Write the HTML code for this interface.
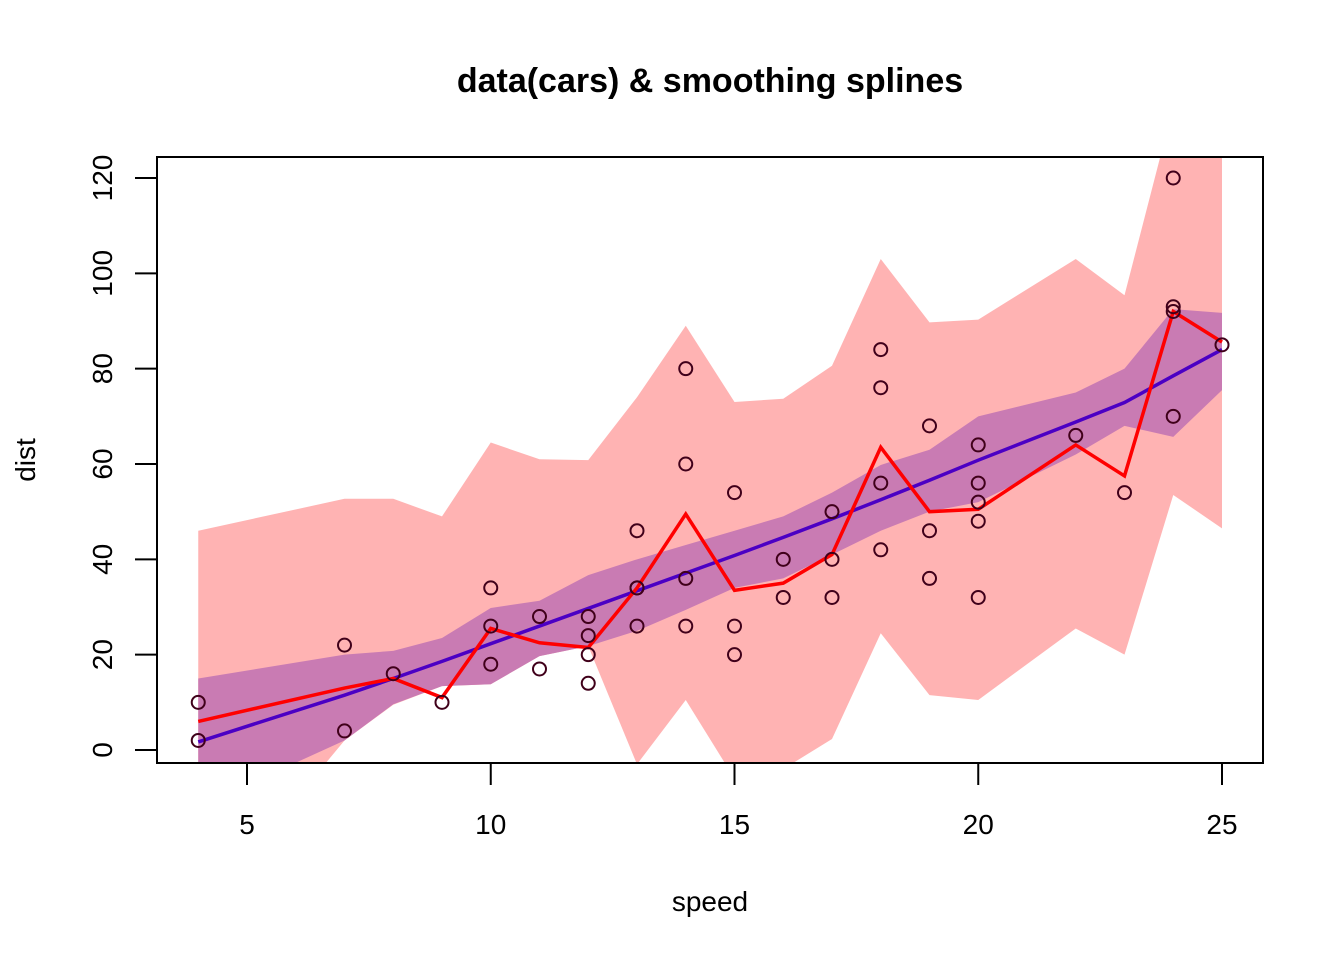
<!DOCTYPE html>
<html><head><meta charset="utf-8"><style>
body{margin:0;background:#fff;font-family:"Liberation Sans",sans-serif}
svg text{font-family:"Liberation Sans",sans-serif}
</style></head><body>
<svg id="chart" width="1344" height="960">
<defs><clipPath id="clip"><rect x="157" y="157" width="1106" height="606"/></clipPath></defs>
<text x="710" y="92" text-anchor="middle" font-size="34" font-weight="bold">data(cars) &amp; smoothing splines</text>
<g id="bands" clip-path="url(#clip)"></g>
<g id="lines" clip-path="url(#clip)"></g>
<g id="pts"></g>
<rect x="157" y="157" width="1106" height="606" fill="none" stroke="#000" stroke-width="2"/>
<g id="axes"></g>
<text x="710" y="911" text-anchor="middle" font-size="28">speed</text>
<text transform="translate(35,460) rotate(-90)" text-anchor="middle" font-size="28">dist</text>
</svg>
<script>
const speeds=[4,4,7,7,8,9,10,10,10,11,11,12,12,12,12,13,13,13,13,14,14,14,14,15,15,15,16,16,17,17,17,18,18,18,18,19,19,19,20,20,20,20,20,22,23,24,24,24,24,25];
const dists=[2,10,4,22,16,10,18,26,34,17,28,14,20,24,28,26,34,34,46,26,36,60,80,20,26,54,32,40,32,40,50,42,56,76,84,36,46,68,32,48,52,56,64,66,54,70,92,93,120,85];
const ux=[4,7,8,9,10,11,12,13,14,15,16,17,18,19,20,22,23,24,25];
const redFit=[6,13,15,11,25.5,22.5,21.5,34,49.5,33.5,35,41,63.5,50,50.5,64,57.5,92,85.6];
const blueFit=[1.7,11.5,15,18.6,22.3,26,29.7,33.4,37.1,40.8,44.6,48.5,52.5,56.6,60.8,68.8,72.9,78.5,84];
const purpleUp=[15,20,20.8,23.5,29.8,31.3,36.7,40,43,46,49,54,59.8,63,70,75,80,92.5,91.7];
const purpleLo=[-12,2,9.6,13.4,13.8,19.7,21.8,25,29.4,34,36,41,46,50,52,62,68,65.7,75.5];
const pinkUp=[46,52.7,52.7,49,64.5,61,60.8,74,89,73,73.7,80.6,103,89.7,90.3,103,95.4,135,131];
const pinkLo=[-35,2,9.5,13.4,13.8,19.7,21.8,-3,10.5,-6,-4,2.3,24.5,11.5,10.5,25.5,20,53.5,46.5];
const xTicks=[5,10,15,20,25];
const yTicks=[0,20,40,60,80,100,120];
const X=v=>247+(v-5)*48.75, Y=v=>750-v*572/120;
const NS="http://www.w3.org/2000/svg";
function mk(t,a,p){const e=document.createElementNS(NS,t);for(const k in a)e.setAttribute(k,a[k]);p.appendChild(e);return e;}
function band(up,lo){let s=ux.map((x,i)=>X(x)+","+Y(up[i]));for(let i=ux.length-1;i>=0;i--)s.push(X(ux[i])+","+Y(lo[i]));return s.join(" ");}
const bands=document.getElementById('bands');
const pb=mk('polygon',{points:band(pinkUp,pinkLo),fill:'#FFB3B3'},bands);


const ppb=mk('polygon',{points:band(purpleUp,purpleLo),fill:'#C97BB3'},bands);


const lines=document.getElementById('lines');
const bl=mk('polyline',{points:ux.map((x,i)=>X(x)+","+Y(blueFit[i])).join(" "),fill:'none',stroke:'#4B00C4','stroke-width':3.5},lines);


const rl=mk('polyline',{points:ux.map((x,i)=>X(x)+","+Y(redFit[i])).join(" "),fill:'none',stroke:'#FF0000','stroke-width':3.5},lines);


const pts=document.getElementById('pts');
speeds.forEach((s,i)=>{const c=mk('circle',{cx:X(s),cy:Y(dists[i]),r:6.5,fill:'none',stroke:'#40001a','stroke-width':2},pts);

});
const ax=document.getElementById('axes');
mk('line',{x1:X(5),x2:X(25),y1:763,y2:763,stroke:'#000','stroke-width':2},ax);
xTicks.forEach(t=>{mk('line',{x1:X(t),x2:X(t),y1:763,y2:785,stroke:'#000','stroke-width':2},ax);
const tx=mk('text',{x:X(t),y:834,'text-anchor':'middle','font-size':28},ax);tx.textContent=t;

});
mk('line',{x1:157,x2:157,y1:Y(0),y2:Y(120),stroke:'#000','stroke-width':2},ax);
yTicks.forEach(t=>{mk('line',{x1:135,x2:157,y1:Y(t),y2:Y(t),stroke:'#000','stroke-width':2},ax);
const tx=mk('text',{transform:`translate(112,${Y(t)}) rotate(-90)`,'text-anchor':'middle','font-size':28},ax);tx.textContent=t;

});
</script>
</body></html>
